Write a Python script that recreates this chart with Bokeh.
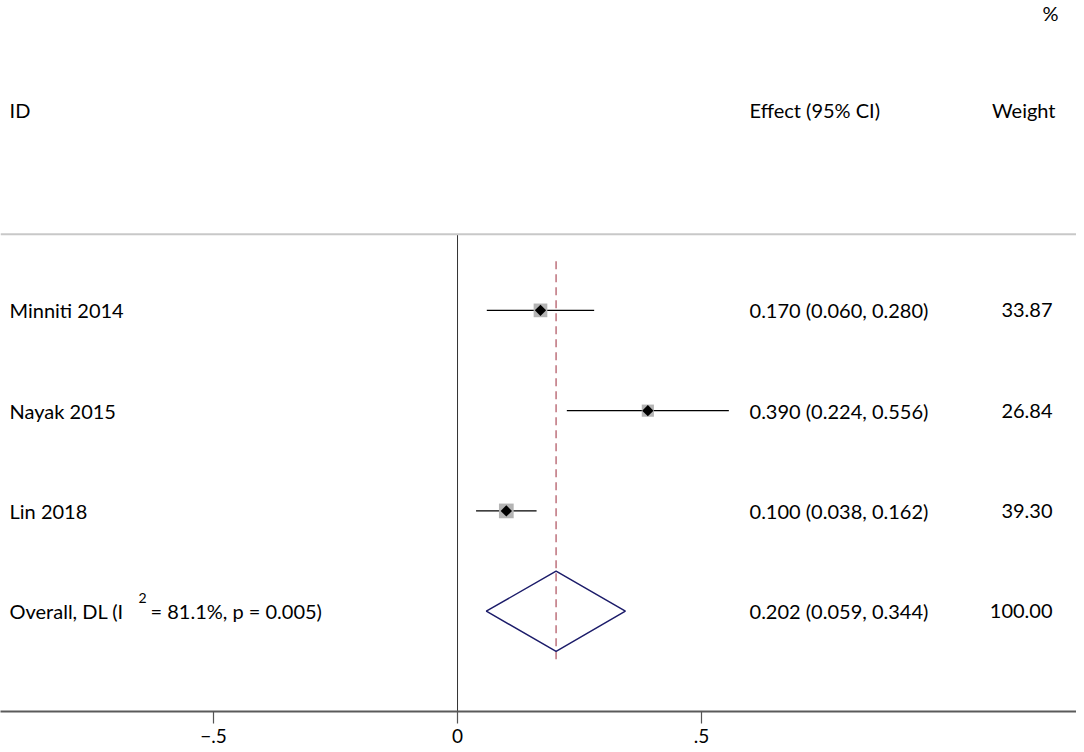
from bokeh.plotting import figure
from bokeh.models import Range1d, FixedTicker, ColumnDataSource, Span
from bokeh.core.properties import value
from bokeh.embed import file_html
from bokeh.resources import INLINE
import math

# ---- data ----
studies = ["Minniti 2014", "Nayak 2015", "Lin 2018"]
effect = [0.170, 0.390, 0.100]
lower = [0.060, 0.224, 0.038]
upper = [0.280, 0.556, 0.162]
weight = [33.87, 26.84, 39.30]
rows = [4, 3, 2]

overall_label_a = "Overall, DL (I"
overall_label_sup = "2"
overall_label_b = "= 81.1%, p = 0.005)"
overall_effect = 0.202
overall_lower = 0.059
overall_upper = 0.344
overall_weight = 100.00
overall_row = 1

tick_values = [-0.5, 0, 0.5]
tick_labels = ["\u2212.5", "0", ".5"]

FONT = "Lato"
FS = "20px"

p = figure(frame_width=1076, frame_height=711, output_backend="svg",
           toolbar_location=None, x_range=Range1d(-0.9365, 1.2684),
           y_range=Range1d(0.0, 7.09), min_border=0)
p.outline_line_color = None
p.grid.visible = False
p.yaxis.visible = False
p.background_fill_color = "white"
p.border_fill_color = "white"

ax = p.xaxis[0]
ax.ticker = FixedTicker(ticks=tick_values)
ax.major_label_overrides = {v: l for v, l in zip(tick_values, tick_labels)}
ax.minor_tick_line_color = None
ax.major_tick_in = 0
ax.major_tick_out = 12
ax.major_tick_line_color = "#555555"
ax.major_tick_line_width = 1.2
ax.axis_line_color = "#5a5a5a"
ax.axis_line_width = 2
ax.major_label_text_font = FONT
ax.major_label_text_font_size = "19px"
ax.major_label_text_color = "black"
ax.major_label_standoff = 5

# header separator and zero line
p.add_layout(Span(location=4.76, dimension="width", line_color="#c8c8c8", line_width=2))
p.segment(x0=[0], y0=[0], x1=[0], y1=[4.76], line_color="#333333", line_width=1)

# overall dashed line
p.segment(x0=[overall_effect], y0=[0.52], x1=[overall_effect], y1=[4.52],
          line_color="#c27a84", line_width=1.6, line_dash="8 5")

src = ColumnDataSource(dict(
    y=rows, eff=effect, lo=lower, hi=upper, name=studies,
    size=[2.35 * math.sqrt(w) for w in weight],
    ci=["%.3f (%.3f, %.3f)" % (e, l, h) for e, l, h in zip(effect, lower, upper)],
    wt=["%.2f" % w for w in weight],
))

p.segment(x0="lo", y0="y", x1="hi", y1="y", source=src, line_color="black", line_width=1.2)
p.scatter(x="eff", y="y", size="size", marker="square", source=src,
          fill_color="#b4b4b4", line_color=None)
p.scatter(x="eff", y="y", size=8, marker="square", angle=math.pi / 4, source=src,
          fill_color="black", line_color=None)

# overall diamond
p.patch(x=[overall_lower, overall_effect, overall_upper, overall_effect],
        y=[overall_row, overall_row + 0.4, overall_row, overall_row - 0.4],
        fill_color=None, line_color="#1c1c6a", line_width=1.5)

# text columns
x_id = -0.918
x_ci = 0.5984
x_wt = 1.2193

p.text(x=x_id, y="y", text="name", source=src, text_font=value(FONT),
       text_font_size=FS, text_baseline="middle", text_align="left")
p.text(x=x_ci, y="y", text="ci", source=src, text_font=value(FONT),
       text_font_size=FS, text_baseline="middle", text_align="left")
p.text(x=x_wt, y="y", text="wt", source=src, text_font=value(FONT),
       text_font_size=FS, text_baseline="middle", text_align="right")

p.text(x=[x_id], y=[overall_row], text=[overall_label_a], text_font=value(FONT),
       text_font_size=FS, text_baseline="middle", text_align="left")
p.text(x=[-0.6537], y=[overall_row + 0.13], text=[overall_label_sup], text_font=value(FONT),
       text_font_size="14px", text_baseline="middle", text_align="left")
p.text(x=[-0.6291], y=[overall_row], text=[overall_label_b], text_font=value(FONT),
       text_font_size=FS, text_baseline="middle", text_align="left")
p.text(x=[x_ci], y=[overall_row],
       text=["%.3f (%.3f, %.3f)" % (overall_effect, overall_lower, overall_upper)],
       text_font=value(FONT), text_font_size=FS, text_baseline="middle", text_align="left")
p.text(x=[x_wt], y=[overall_row], text=["%.2f" % overall_weight], text_font=value(FONT),
       text_font_size=FS, text_baseline="middle", text_align="right")

# headers
p.text(x=[x_id], y=[6.0], text=["ID"], text_font=value(FONT), text_font_size=FS,
       text_baseline="middle", text_align="left")
p.text(x=[x_ci], y=[6.0], text=["Effect (95% CI)"], text_font=value(FONT), text_font_size=FS,
       text_baseline="middle", text_align="left")
p.text(x=[1.2254], y=[6.0], text=["Weight"], text_font=value(FONT), text_font_size=FS,
       text_baseline="middle", text_align="right")
p.text(x=[1.2316], y=[6.97], text=["%"], text_font=value(FONT), text_font_size=FS,
       text_baseline="middle", text_align="right")

open("out.html", "w").write(file_html(p, INLINE))
